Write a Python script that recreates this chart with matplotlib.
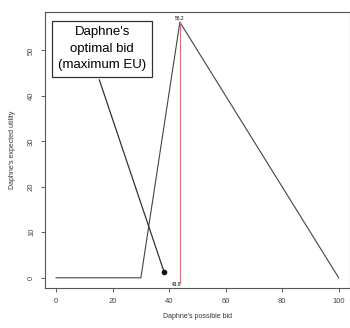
import matplotlib
matplotlib.use("Agg")
import matplotlib.pyplot as plt

plt.rcParams['font.family'] = ['Liberation Sans', 'DejaVu Sans']

# expected utility as a function of the bid
bids = [0, 30, 43.8, 100]
eu = [0, 0, 56.2, 0]
best_bid = 43.8
best_eu = 56.2
peak_label = "56.2"
bid_label = "43.8"

xticks = [0, 20, 40, 60, 80, 100]
yticks = [0, 10, 20, 30, 40, 50]

# arrow from the callout box down to the marker
arrow_start = (15.3, 43.5)
arrow_end = (38.2, 1.3)

fig = plt.figure(figsize=(3.5, 3.28), dpi=100)
ax = fig.add_axes([0.128, 0.122, 0.872, 0.841])

ax.plot(bids, eu, color='#444444', lw=0.8)
ax.vlines(best_bid, -1.2, best_eu, color='#d9707a', lw=0.8)

ax.text(best_bid, best_eu + 0.3, peak_label, ha='center', va='bottom', fontsize=3.5)
ax.text(best_bid - 1.2, -2.1, bid_label, ha='center', va='bottom', fontsize=3.5)

ax.plot([arrow_start[0], arrow_end[0]], [arrow_start[1], arrow_end[1]],
        color='#333333', lw=0.9)
ax.plot(arrow_end[0], arrow_end[1], 'o', color='#111111', ms=3)

ax.text(16.3, 50.3, "Daphne's\noptimal bid\n(maximum EU)", ha='center', va='center',
        fontsize=9.5, linespacing=1.5, zorder=5,
        bbox=dict(boxstyle='square,pad=0.45', fc='white', ec='#333333', lw=0.9))

ax.set_xlim(-4, 104)
ax.set_ylim(-2.24, 58.4)
ax.set_xticks(xticks)
ax.set_yticks(yticks)
ax.tick_params(labelsize=5.5, length=3, width=0.6, colors='#444444', pad=4)
plt.setp(ax.get_yticklabels(), rotation=90, va='center')
for s in ax.spines.values():
    s.set_linewidth(0.8)
    s.set_color('#555555')

ax.set_xlabel("Daphne's possible bid", fontsize=5, color='#333333', labelpad=6)
ax.set_ylabel("Daphne's expected utility", fontsize=5, color='#333333', labelpad=9)

fig.savefig("out.png", dpi=100)
